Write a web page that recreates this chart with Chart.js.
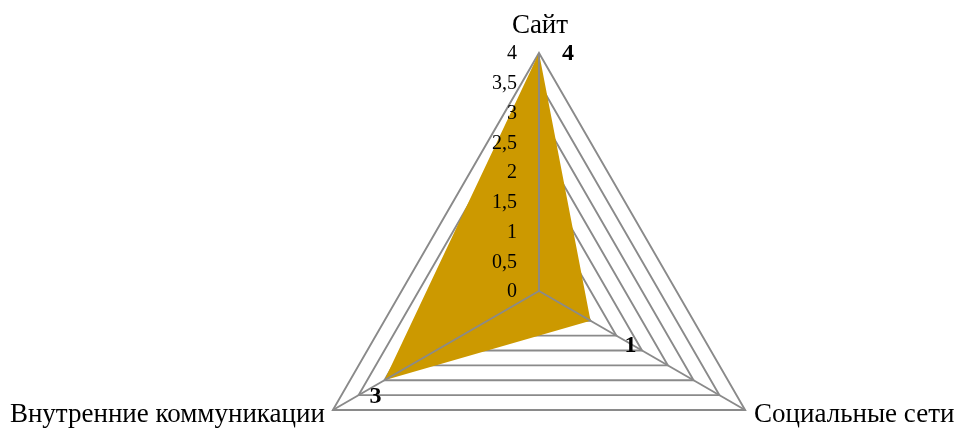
<!DOCTYPE html>
<html>
<head>
<meta charset="utf-8">
<script src="https://cdn.jsdelivr.net/npm/chart.js@4"></script>
<style>
html,body{margin:0;padding:0;background:#fff;}
#wrap{width:956px;height:430px;position:relative;}
</style>
</head>
<body>
<div id="wrap"><canvas id="c" width="956" height="430"></canvas></div>
<script>
const categories = ["Сайт", "Социальные сети", "Внутренние коммуникации"];
const values = [4, 1, 3];
const dataLabels = ["4", "1", "3"];
const tickMin = 0, tickMax = 4, tickStep = 0.5;

const SERIF = '"Liberation Serif", "Times New Roman", serif';
const GRID = '#8a8a8a';
const FILL = '#CC9900';

// layout of the radial scale (geometry, not data)
const geom = { cx: 539, cy: 291, r: 238 };
// data label offsets relative to the point (style)
const labelOffsets = [[29, 1], [40, 25], [-9, 17]];

function fmt(v){ return String(v).replace('.', ','); }

const overlay = {
  id: 'overlay',
  afterDatasetsDraw(chart){
    const s = chart.scales.r, ctx = chart.ctx;
    const n = chart.data.labels.length;
    ctx.save();
    // angle lines on top of the fill
    ctx.strokeStyle = GRID; ctx.lineWidth = 1.9;
    for (let i = 0; i < n; i++){
      const p = s.getPointPosition(i, s.drawingArea);
      ctx.beginPath(); ctx.moveTo(s.xCenter, s.yCenter); ctx.lineTo(p.x, p.y); ctx.stroke();
    }
    // tick labels
    ctx.fillStyle = '#000';
    ctx.font = '20px ' + SERIF;
    ctx.textAlign = 'right'; ctx.textBaseline = 'middle';
    s.ticks.forEach(t => {
      const d = s.getDistanceFromCenterForValue(t.value);
      ctx.fillText(fmt(t.value), s.xCenter - 22, s.yCenter - d + 1);
    });
    // point labels
    ctx.font = '27px ' + SERIF;
    ctx.textBaseline = 'alphabetic';
    for (let i = 0; i < n; i++){
      const p = s.getPointPosition(i, s.drawingArea);
      const dx = p.x - s.xCenter;
      if (Math.abs(dx) < 1){
        ctx.textAlign = 'center';
        ctx.fillText(chart.data.labels[i], p.x + 1, p.y - 20);
      } else if (dx > 0){
        ctx.textAlign = 'left';
        ctx.fillText(chart.data.labels[i], p.x + 9, p.y + 12);
      } else {
        ctx.textAlign = 'right';
        ctx.fillText(chart.data.labels[i], p.x - 8, p.y + 12);
      }
    }
    // data labels
    ctx.font = 'bold 24px ' + SERIF;
    ctx.textAlign = 'center'; ctx.textBaseline = 'middle';
    const ds = chart.data.datasets[0];
    ds.data.forEach((v, i) => {
      const p = s.getPointPositionForValue(i, v);
      ctx.fillText(dataLabels[i], p.x + labelOffsets[i][0], p.y + labelOffsets[i][1]);
    });
    ctx.restore();
  }
};

new Chart(document.getElementById('c'), {
  type: 'radar',
  data: {
    labels: categories,
    datasets: [{
      data: values,
      backgroundColor: FILL,
      borderWidth: 0,
      borderColor: FILL,
      fill: true,
      pointRadius: 0,
      pointHoverRadius: 0
    }]
  },
  options: {
    responsive: false,
    animation: false,
    events: [],
    plugins: { legend: { display: false }, tooltip: { enabled: false } },
    scales: {
      r: {
        min: tickMin, max: tickMax,
        ticks: { stepSize: tickStep, display: false },
        pointLabels: { display: false },
        angleLines: { display: false },
        grid: { color: GRID, lineWidth: 1.9 },
        afterFit(s){ s.xCenter = geom.cx; s.yCenter = geom.cy; s.drawingArea = geom.r; }
      }
    }
  },
  plugins: [overlay]
});
</script>
</body>
</html>
